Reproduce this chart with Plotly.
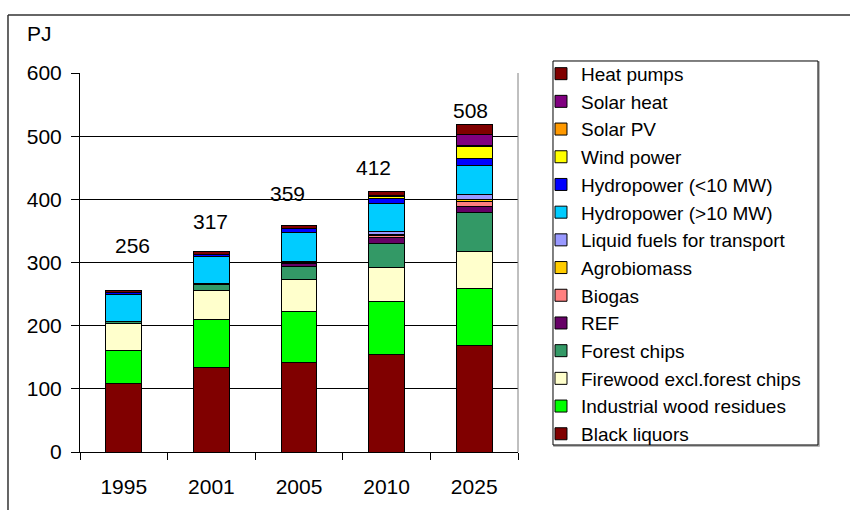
import plotly.graph_objects as go

years = ["1995", "2001", "2005", "2010", "2025"]
total_labels = ["256", "317", "359", "412", "508"]

black_liquors = [108, 134, 142, 154, 168]
industrial_wood = [53, 75, 81, 84, 91]
firewood = [43, 47, 50, 54, 59]
forest_chips = [3, 9, 21, 38, 61]
ref = [0, 1, 5, 9, 10]
biogas = [0, 0, 1, 3, 8]
agrobiomass = [0, 0, 2, 3, 3]
liquid_fuels = [0, 0, 0, 4, 8]
hydro_large = [42, 43, 46, 44, 46]
hydro_small = [4, 4, 6, 8, 11]
wind = [0, 0, 0, 3, 18]
solar_pv = [0, 0, 0, 1, 2]
solar_heat = [0, 0, 0, 1, 17]
heat_pumps = [3, 4, 5, 6, 17]

series = [
    ("Black liquors", black_liquors, "#800000"),
    ("Industrial wood residues", industrial_wood, "#00FF00"),
    ("Firewood excl.forest chips", firewood, "#FFFFCC"),
    ("Forest chips", forest_chips, "#339966"),
    ("REF", ref, "#660066"),
    ("Biogas", biogas, "#FF8080"),
    ("Agrobiomass", agrobiomass, "#FFCC00"),
    ("Liquid fuels for transport", liquid_fuels, "#9999FF"),
    ("Hydropower (>10 MW)", hydro_large, "#00CCFF"),
    ("Hydropower (<10 MW)", hydro_small, "#0000FF"),
    ("Wind power", wind, "#FFFF00"),
    ("Solar PV", solar_pv, "#FF9900"),
    ("Solar heat", solar_heat, "#800080"),
    ("Heat pumps", heat_pumps, "#800000"),
]

FONT = "Arial, Liberation Sans, sans-serif"

fig = go.Figure()
for name, vals, color in series:
    fig.add_trace(go.Bar(
        x=years, y=vals, name=name,
        marker=dict(color=color, line=dict(color="black", width=1)),
    ))

# label placement (layout only): vertical gap above each bar and horizontal shift in px
label_gap = [71, 48, 51, 39, 21]
label_shift = [9, -1, -12, -13, -4]
totals = [sum(v) for v in zip(*[s[1] for s in series])]
for i, (lab, tot, gap, sh) in enumerate(zip(total_labels, totals, label_gap, label_shift)):
    fig.add_annotation(x=i, y=tot + gap, xref="x", yref="y", text=lab, showarrow=False,
                       xshift=sh, font=dict(family=FONT, size=21, color="black"))

fig.add_annotation(xref="paper", yref="paper", x=-0.0936, y=1.1055, text="PJ",
                   xanchor="center", yanchor="middle",
                   showarrow=False, font=dict(family=FONT, size=21, color="black"))

# outer chart frame (top and left edges)
fig.add_shape(type="line", xref="paper", yref="paper", x0=-0.1644, x1=1.8, y0=1.153, y1=1.153,
              line=dict(color="#333333", width=1.5))
fig.add_shape(type="line", xref="paper", yref="paper", x0=-0.1644, x1=-0.1644, y0=-0.2, y1=1.153,
              line=dict(color="#333333", width=1.5))
# right edge of plot area
fig.add_shape(type="line", xref="paper", yref="paper", x0=1, x1=1, y0=0, y1=1,
              line=dict(color="#808080", width=1))
# legend box (shadow + frame)
fig.add_shape(type="rect", xref="paper", yref="paper", x0=1.0822, x1=1.6872, y0=0.0158, y1=1.0293,
              line=dict(color="#a0a0a0", width=1.5), fillcolor="rgba(0,0,0,0)")
fig.add_shape(type="rect", xref="paper", yref="paper", x0=1.0799, x1=1.6849, y0=0.0185, y1=1.0317,
              line=dict(color="black", width=1), fillcolor="white")

fig.update_layout(
    width=850, height=510,
    margin=dict(l=80, r=332, t=73, b=58),
    barmode="stack", bargap=0.59,
    paper_bgcolor="white", plot_bgcolor="white",
    font=dict(family=FONT, size=21, color="black"),
    showlegend=True,
    legend=dict(
        traceorder="reversed",
        x=1.0525, y=1.048, xanchor="left", yanchor="top",
        borderwidth=0, bgcolor="rgba(0,0,0,0)",
        font=dict(family=FONT, size=19, color="black"),
        maxheight=480,
    ),
    xaxis=dict(
        type="category", tickson="boundaries", ticks="outside", ticklen=7,
        tickcolor="black", showline=True, linecolor="black", linewidth=1,
        tickfont=dict(family=FONT, size=21), ticklabelstandoff=16,
    ),
    yaxis=dict(
        range=[0, 600], dtick=100, ticks="outside", ticklen=8, tickcolor="black",
        showline=True, linecolor="black", linewidth=1,
        showgrid=True, gridcolor="black", gridwidth=1, zeroline=False,
        tickfont=dict(family=FONT, size=21), ticklabelstandoff=5,
    ),
)

fig.write_html("out.html", config={"displayModeBar": False},
               post_script="document.body.style.margin='0';")
